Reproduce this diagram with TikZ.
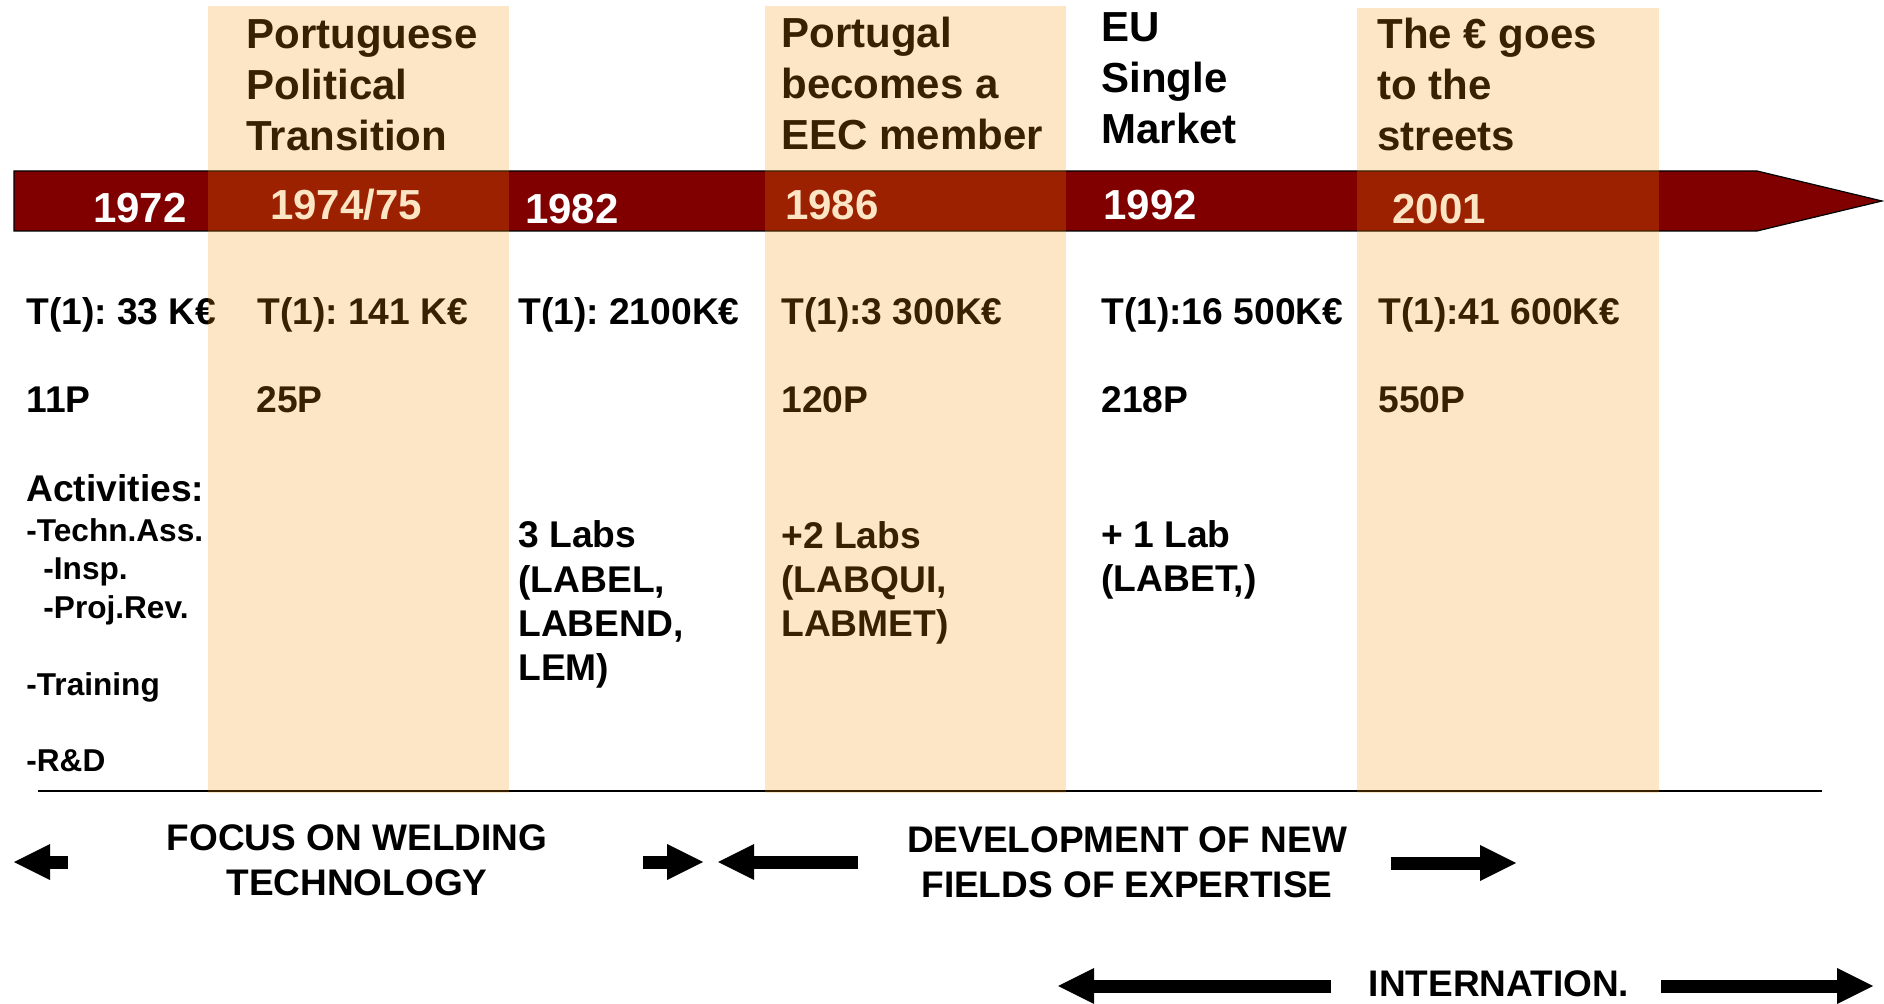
\documentclass[tikz,border=0pt]{standalone}
\usepackage{fontspec}
\setmainfont{Liberation Sans}
\usetikzlibrary{arrows.meta}
\definecolor{barred}{RGB}{128,0,0}
\definecolor{bandorange}{RGB}{246,146,3}
\tikzset{
  band/.style={fill=bandorange, fill opacity=0.23},
  yeartxt/.style={anchor=base, inner sep=0pt, text=white, font=\bfseries\fontsize{21}{25.5}\selectfont},
  headtxt/.style={anchor=base west, align=left, inner sep=0pt, font=\bfseries\fontsize{21}{25.5}\selectfont},
  datatxt/.style={anchor=base west, align=left, inner sep=0pt, font=\bfseries\fontsize{18.6}{22.2}\selectfont},
  subtxt/.style={anchor=base west, inner sep=0pt, font=\bfseries\fontsize{15.8}{19}\selectfont},
  phasetxt/.style={anchor=base, align=center, inner sep=0pt, font=\bfseries\fontsize{18.5}{22.5}\selectfont},
  blockarrow/.style={line width=6.5pt, -{Triangle[length=18pt,width=18pt,line width=0pt]}}
}
\frenchspacing
\begin{document}
\begin{tikzpicture}[x=0.5pt,y=-0.5pt]
    \useasboundingbox (0,0) rectangle (1884,1004);
    % time bar
    \draw[fill=barred, line width=0.6pt] (14,171) -- (1757,171) -- (1882,201) -- (1757,231) -- (14,231) -- cycle;
    \node[yeartxt] (y1972) at (140,223) {1972};
    \node[yeartxt] (y1974) at (346,220) {1974/75};
    \node[yeartxt] (y1982) at (572,224) {1982};
    \node[yeartxt] (y1986) at (832,220) {1986};
    \node[yeartxt] (y1992) at (1150,220) {1992};
    \node[yeartxt] (y2001) at (1439,224) {2001};
    % events (base = last line)
    \node[headtxt] (h1974) at (246,151) {Portuguese\\Political\\Transition};
    \node[headtxt] (h1986) at (781,150) {Portugal\\becomes a\\EEC member};
    \node[headtxt] (h1992) at (1101,144) {EU\\Single\\Market};
    \node[headtxt] (h2001) at (1377,151) {The € goes\\to the\\streets};
    % turnover and staff
    \node[datatxt] (t1972) at (26,325) {T(1): 33 K€};
    \node[datatxt] (t1974) at (257,325) {T(1): 141 K€};
    \node[datatxt] (t1982) at (518,325) {T(1): 2100K€};
    \node[datatxt] (t1986) at (781,325) {T(1):3 300K€};
    \node[datatxt] (t1992) at (1101,325) {T(1):16 500K€};
    \node[datatxt] (t2001) at (1378,325) {T(1):41 600K€};
    \node[datatxt] (p1972) at (26,413) {11P};
    \node[datatxt] (p1974) at (256,413) {25P};
    \node[datatxt] (p1986) at (781,413) {120P};
    \node[datatxt] (p1992) at (1101,413) {218P};
    \node[datatxt] (p2001) at (1378,413) {550P};
    \node[datatxt] (act) at (26,502) {Activities:};
    \node[subtxt] (act1) at (26,542) {-Techn.Ass.};
    \node[subtxt] (act2) at (43,580) {-Insp.};
    \node[subtxt] (act3) at (43,619) {-Proj.Rev.};
    \node[subtxt] (act4) at (26,696) {-Training};
    \node[subtxt] (act5) at (26,771) {-R\&D};
    \node[datatxt] (l1982) at (518,681) {3 Labs\\(LABEL,\\LABEND,\\LEM)};
    \node[datatxt] (l1986) at (781,637) {+2 Labs\\(LABQUI,\\LABMET)};
    \node[datatxt] (l1992) at (1101,592) {+ 1 Lab\\(LABET,)};
    \draw[line width=1.3pt] (38,791) -- (1822,791);
    % phases
    \node[phasetxt] (focus) at (357,895) {FOCUS ON WELDING\\TECHNOLOGY};
    \node[phasetxt] (devel) at (1127,897) {DEVELOPMENT OF NEW\\FIELDS OF EXPERTISE};
    \node[phasetxt] (intern) at (1499,996) {INTERNATION.};
    \coordinate (focusA) at (68,862);
    \coordinate (focusB) at (14,862);
    \coordinate (focusC) at (643,862);
    \coordinate (focusD) at (703,862);
    \coordinate (develA) at (858,862);
    \coordinate (develB) at (718,862);
    \coordinate (develC) at (1391,863);
    \coordinate (develD) at (1516,863);
    \coordinate (internA) at (1331,986);
    \coordinate (internB) at (1058,986);
    \coordinate (internC) at (1661,986);
    \coordinate (internD) at (1873,986);
    \draw[blockarrow] (focusA) -- (focusB);
    \draw[blockarrow] (focusC) -- (focusD);
    \draw[blockarrow] (develA) -- (develB);
    \draw[blockarrow] (develC) -- (develD);
    \draw[blockarrow] (internA) -- (internB);
    \draw[blockarrow] (internC) -- (internD);
    % highlighted periods
    \fill[band] (208,6) rectangle (509,793);
    \fill[band] (765,6) rectangle (1066,793);
    \fill[band] (1357,8) rectangle (1659,793);
\end{tikzpicture}
\end{document}
